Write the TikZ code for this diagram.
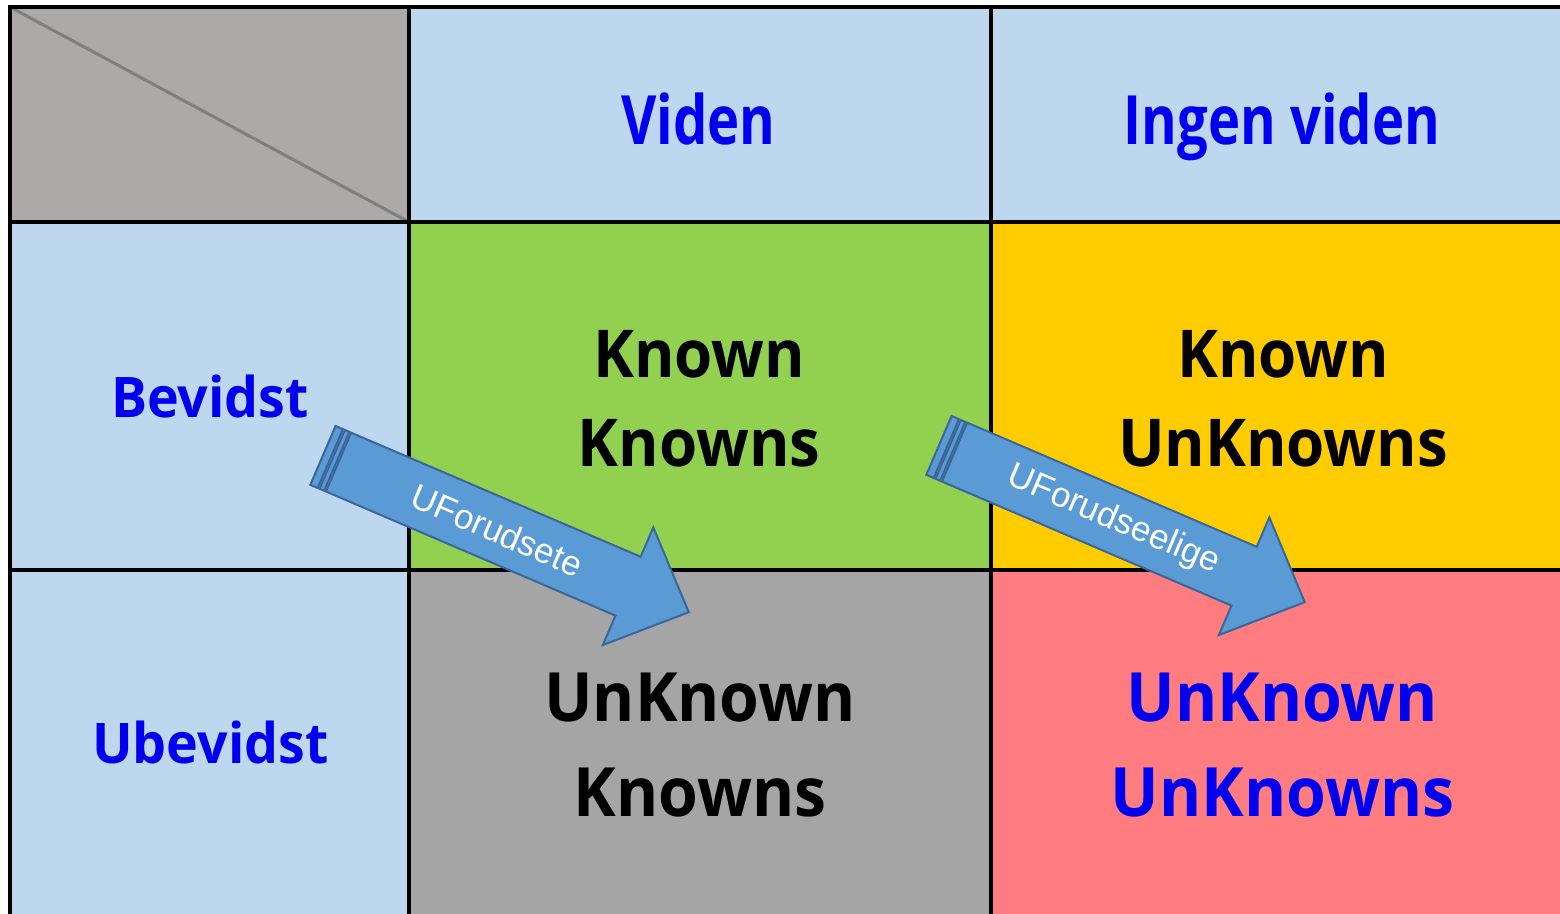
\documentclass[tikz,border=0pt]{standalone}
\usepackage{fontspec}
\setmainfont{Open Sans}
\newfontfamily\headfont[FakeStretch=0.80]{Open Sans}
\newfontfamily\sidefont[FakeStretch=0.96]{Open Sans}
\newfontfamily\rowtwofont[FakeStretch=0.935]{Open Sans}
\newfontfamily\rowthreefont[FakeStretch=0.945]{Open Sans}
\newfontfamily\arrowfont{Liberation Sans}
\definecolor{cornergrey}{HTML}{ADA9A8}
\definecolor{headblue}{HTML}{BDD7EE}
\definecolor{kkgreen}{HTML}{92D050}
\definecolor{kuorange}{HTML}{FFCC00}
\definecolor{ukgrey}{HTML}{A5A5A5}
\definecolor{uupink}{HTML}{FF7C80}
\definecolor{labelblue}{HTML}{0000EE}
\definecolor{arrowfill}{HTML}{5B9BD5}
\definecolor{arrowline}{HTML}{3A669A}
\definecolor{diagline}{HTML}{7F7F7F}
\tikzset{
  cellline/.style={draw=black, line width=3.2pt},
  headtext/.style={font=\headfont\bfseries\fontsize{68}{80}\selectfont, text=labelblue, anchor=base},
  sidetext/.style={font=\sidefont\bfseries\fontsize{56}{66}\selectfont, text=labelblue, anchor=base},
  rowtwo/.style={font=\rowtwofont\bfseries\fontsize{66}{89}\selectfont, text=black, align=center},
  rowthree/.style={font=\rowthreefont\bfseries\fontsize{68}{95}\selectfont, text=black, align=center},
  arrowbody/.style={fill=arrowfill, draw=arrowline, line width=2pt, line join=miter},
  arrowtext/.style={font=\arrowfont\fontsize{35}{42}\selectfont, text=white, rotate=-23.2},
}
\newcommand\stripedarrow[3]{%
  \begin{scope}[shift={(#1)}, rotate=-23.2]
    \path[arrowbody] (-18pt,-32pt) rectangle (-10pt,32pt);
    \path[arrowbody] (-8pt,-32pt) rectangle (-3pt,32pt);
    \path[arrowbody] (-1pt,32pt) -- (314pt,32pt) -- (314pt,64pt) -- (380pt,0pt)
      -- (314pt,-64pt) -- (314pt,-32pt) -- (-1pt,-32pt) -- cycle;
    \node[arrowtext] (#3) at (172pt,0pt) {#2};
  \end{scope}}
\begin{document}
\begin{tikzpicture}[x=1pt, y=-1pt]
  \useasboundingbox (0,0) rectangle (1560,913);
  \clip (0,0) rectangle (1560,913);
  % cell fills
  \fill[cornergrey] (10,7) rectangle (409,222);
  \fill[headblue] (409,7) rectangle (1573,222);
  \fill[headblue] (10,222) rectangle (409,918);
  \fill[kkgreen] (409,222) rectangle (991,570);
  \fill[kuorange] (991,222) rectangle (1573,570);
  \fill[ukgrey] (409,570) rectangle (991,918);
  \fill[uupink] (991,570) rectangle (1573,918);
  % diagonal in corner
  \draw[color=diagline, line width=3pt] (10,7) -- (409,222);
  % grid lines
  \draw[cellline] (10,918) -- (10,7) -- (1573,7);
  \draw[cellline] (409,7) -- (409,918);
  \draw[cellline] (991,7) -- (991,918);
  \draw[cellline] (10,222) -- (1573,222);
  \draw[cellline] (10,570) -- (1573,570);
  % texts
  \node[headtext] (viden) at (698.5,144) {Viden};
  \node[headtext] (ingen) at (1282,144) {Ingen viden};
  \node[sidetext] (bevidst) at (210,417) {Bevidst};
  \node[sidetext] (ubevidst) at (210.5,763) {Ubevidst};
  \node[rowtwo] (kk) at (699,399) {Known\\Knowns};
  \node[rowtwo] (ku) at (1283,399) {Known\\UnKnowns};
  \node[rowthree] (uk) at (700,745) {UnKnown\\Knowns};
  \node[rowthree, text=labelblue] (uu) at (1282.5,745) {UnKnown\\UnKnowns};
  % arrows
  \stripedarrow{339.5,462.5}{UForudsete}{a1}
  \stripedarrow{955.5,452.5}{UForudseelige}{a2}
\end{tikzpicture}
\end{document}
